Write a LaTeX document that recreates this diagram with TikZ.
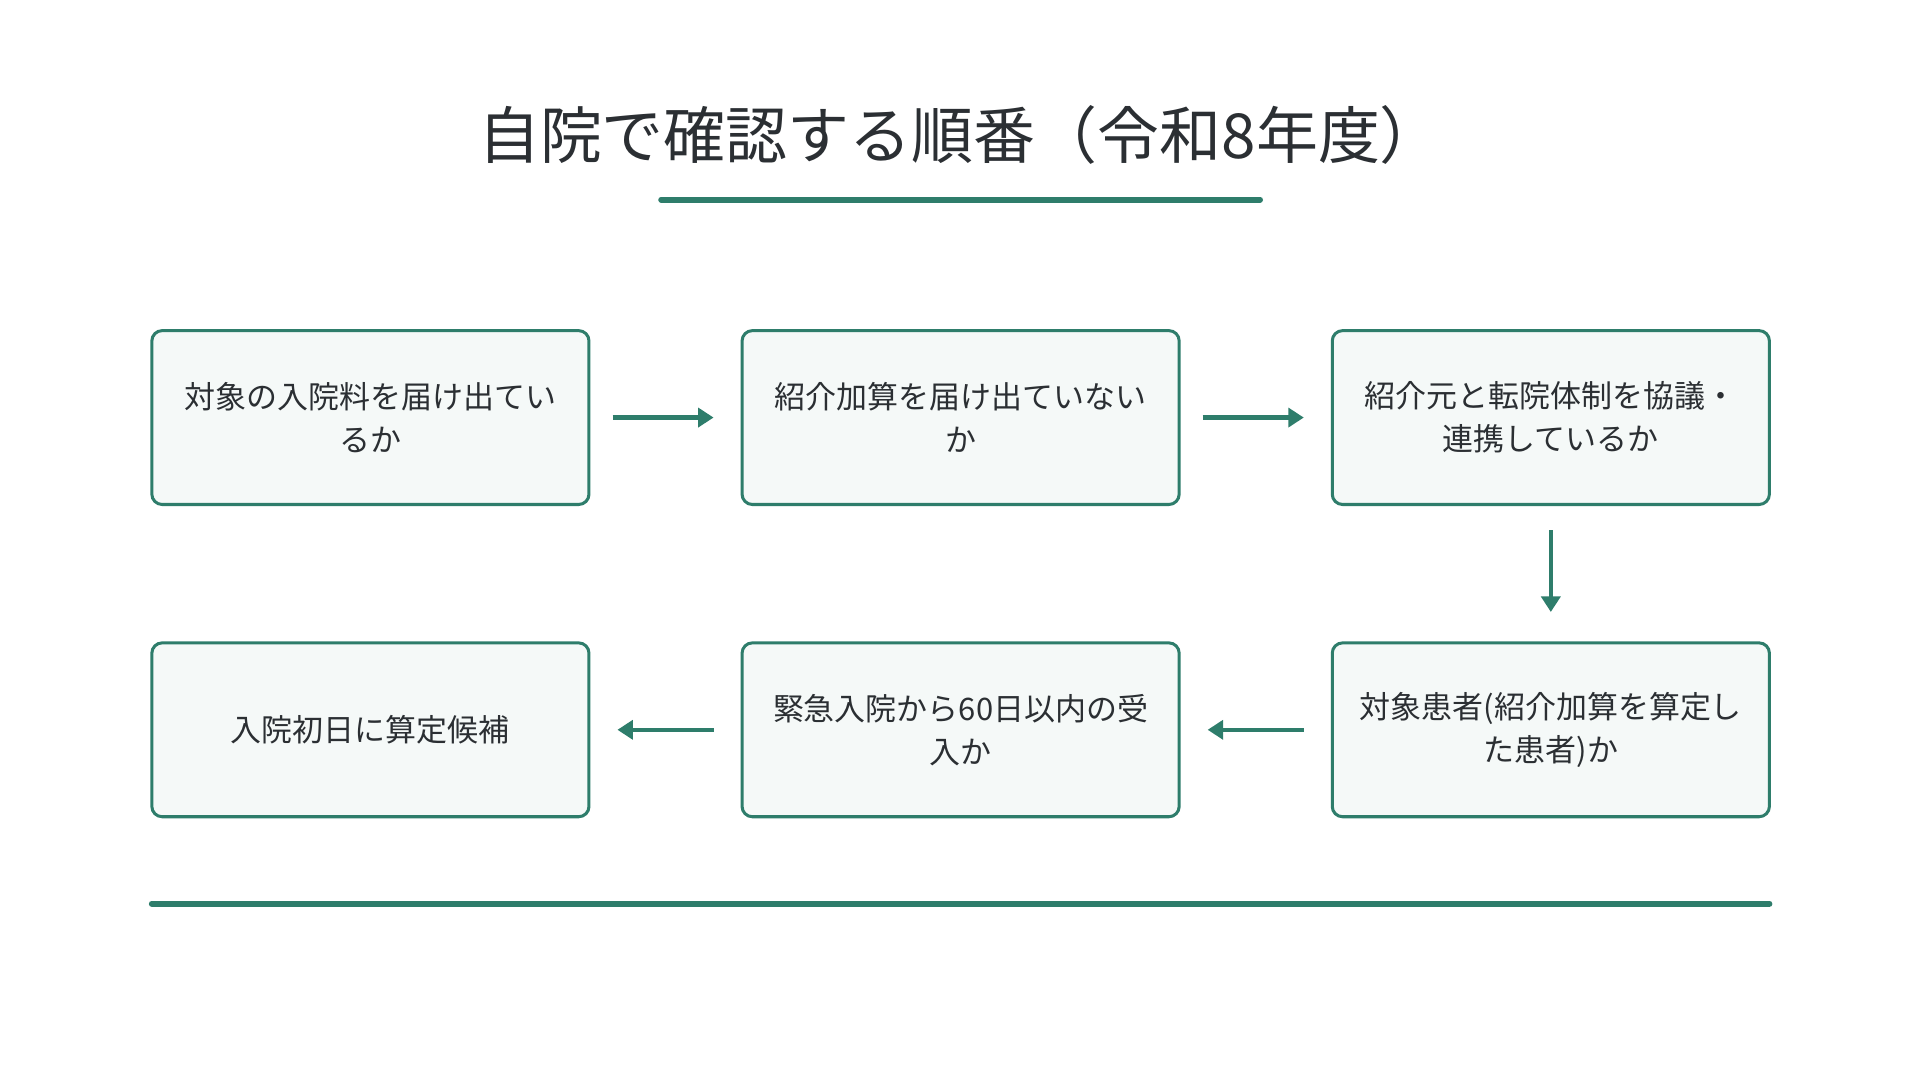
\documentclass[tikz,border=0pt]{standalone}
\usepackage{fontspec}
\setmainfont{Noto Sans CJK JP}
\usetikzlibrary{arrows.meta}
\definecolor{gr}{HTML}{2E7D6B}
\definecolor{bx}{HTML}{F5F9F8}
\definecolor{tx}{HTML}{2B2F33}
\begin{document}
\begin{tikzpicture}[x=0.05cm,y=-0.05cm,
  box/.style={draw=gr,line width=3.5pt,fill=bx,rounded corners=12pt,minimum width=357*0.05cm,minimum height=142*0.05cm,align=center,text=tx,font=\fontsize{36}{50}\selectfont},
  arr/.style={draw=gr,line width=5pt,-{Triangle[length=18pt,width=22pt]}}]
\useasboundingbox (0,0) rectangle (1568,882);
\node[text=tx,font=\fontsize{72}{80}\selectfont] (title) at (784,110) {自院で確認する順番（令和8年度）};
\coordinate (u1) at (540,163); \coordinate (u2) at (1029,163);
\draw[gr,line width=7pt,line cap=round] (u1) -- (u2);
\node[box] (b1) at (302.5,341) {対象の入院料を届け出てい\\るか};
\node[box] (b2) at (784.5,341) {紹介加算を届け出ていない\\か};
\node[box] (b3) at (1266.5,341) {紹介元と転院体制を協議・\\連携しているか};
\node[box] (b4) at (1266.5,596) {対象患者(紹介加算を算定し\\た患者)か};
\node[box] (b5) at (784.5,596) {緊急入院から60日以内の受\\入か};
\node[box] (b6) at (302.5,596) {入院初日に算定候補};
\draw[arr] ([xshift=18*0.05cm]b1.east) -- ([xshift=-22*0.05cm]b2.west);
\draw[arr] ([xshift=18*0.05cm]b2.east) -- ([xshift=-22*0.05cm]b3.west);
\draw[arr] ([yshift=-20*0.05cm]b3.south) -- ([yshift=24*0.05cm]b4.north);
\draw[arr] ([xshift=-22*0.05cm]b4.west) -- ([xshift=22*0.05cm]b5.east);
\draw[arr] ([xshift=-22*0.05cm]b5.west) -- ([xshift=22*0.05cm]b6.east);
\coordinate (l1) at (124,738); \coordinate (l2) at (1445,738);
\draw[gr,line width=7pt,line cap=round] (l1) -- (l2);
\end{tikzpicture}
\end{document}
